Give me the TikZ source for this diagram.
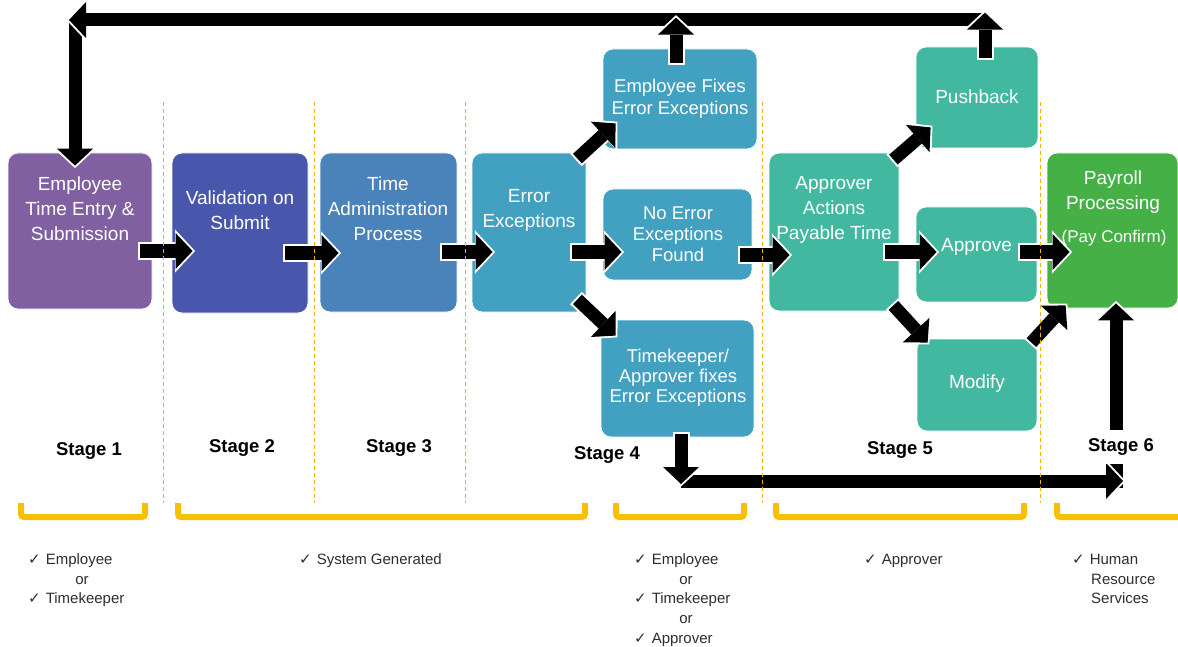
\documentclass[tikz,border=0pt]{standalone}
\usepackage{fontspec}
\setmainfont{Liberation Sans}
\newfontfamily\symbolfont{DejaVu Sans}
\usetikzlibrary{arrows.meta,calc}

\definecolor{purplebox}{HTML}{8060A0}
\definecolor{indigobox}{HTML}{4857AB}
\definecolor{steelbox}{HTML}{4A82BA}
\definecolor{cyanbox}{HTML}{42A0C1}
\definecolor{tealbox}{HTML}{42B8A0}
\definecolor{greenbox}{HTML}{44B045}
\definecolor{bracketgold}{HTML}{F8C100}
\definecolor{guideorange}{HTML}{F5B000}
\definecolor{notegray}{HTML}{2E2E2E}

% check mark used in the responsibility notes
\newcommand\tick{{\symbolfont\fontsize{15}{15}\selectfont ✓}\hspace{5pt}}

\begin{document}
\begin{tikzpicture}[x=1pt,y=-1pt,
  procbox/.style={rounded corners=10pt, draw=white, line width=0.8pt, inner sep=0pt},
  boxtext/.style={text=white, align=center, inner sep=0pt, font=\fontsize{19}{25}\selectfont},
  blockarrow/.style={draw=black, line width=13pt, -{Triangle[length=17pt,width=36pt,line width=0pt]},
    preaction={draw=white, line width=17pt, shorten <=-2pt, shorten >=-2.5pt,
      -{Triangle[length=20pt,width=43pt,line width=0pt]}}},
  stagelabel/.style={font=\bfseries\fontsize{18.5}{20}\selectfont, text=black},
  note/.style={anchor=west, inner sep=0pt, text=notegray, font=\fontsize{15}{18}\selectfont, text height=11pt, text depth=3pt},
  guide/.style={draw=guideorange, line width=1pt, dash pattern=on 4pt off 3pt},
  bracket/.style={draw=bracketgold, line width=6pt, rounded corners=3pt}
]
\useasboundingbox (0,0) rectangle (1178,647);
\clip (0,0) rectangle (1178,647);
\fill[white] (0,0) rectangle (1178,647);

% ---- process boxes ----
\node[procbox, fill=purplebox, minimum width=144pt, minimum height=156pt] (b1) at (80,231) {};
\node[procbox, fill=indigobox, minimum width=136pt, minimum height=160pt] (b2) at (240,233) {};
\node[procbox, fill=steelbox, minimum width=137pt, minimum height=159pt] (b3) at (388.5,232.5) {};
\node[procbox, fill=cyanbox, minimum width=114pt, minimum height=159pt] (b4) at (529,232.5) {};
\node[procbox, fill=cyanbox, minimum width=154pt, minimum height=100pt] (ef) at (680,99) {};
\node[procbox, fill=cyanbox, minimum width=149pt, minimum height=91pt] (ne) at (677.5,234.5) {};
\node[procbox, fill=cyanbox, minimum width=153pt, minimum height=117pt] (tk) at (677.5,378.5) {};
\node[procbox, fill=tealbox, minimum width=130pt, minimum height=158pt] (ap) at (834,232) {};
\node[procbox, fill=tealbox, minimum width=122pt, minimum height=101pt] (pb) at (977,97.5) {};
\node[procbox, fill=tealbox, minimum width=121pt, minimum height=95pt] (av) at (976.5,254.5) {};
\node[procbox, fill=tealbox, minimum width=120pt, minimum height=92pt] (mo) at (977,385) {};
\node[procbox, fill=greenbox, minimum width=131pt, minimum height=155pt] (pp) at (1112.5,230.5) {};

% ---- box texts ----
\node[boxtext] (b1t) at (80,209) {Employee\\Time Entry \&\\Submission};
\node[boxtext] (b2t) at (240,210) {Validation on\\Submit};
\node[boxtext] (b3t) at (388,209) {Time\\Administration\\Process};
\node[boxtext] (b4t) at (529,210) {Error\\Exceptions};
\node[boxtext, font=\fontsize{18.5}{22}\selectfont] (eft) at (680,99) {Employee Fixes\\Error Exceptions};
\node[boxtext, font=\fontsize{18.5}{21}\selectfont] (net) at (678,234) {No Error\\Exceptions\\Found};
\node[boxtext, font=\fontsize{18.5}{20}\selectfont] (tkt) at (678,378) {Timekeeper/\\Approver fixes\\Error Exceptions};
\node[boxtext] (apt) at (834,210) {Approver\\Actions\\Payable Time};
\node[boxtext] (pbt) at (977,97) {Pushback};
\node[boxtext] (avt) at (976.5,247) {Approve};
\node[boxtext] (mot) at (977,384) {Modify};
\node[boxtext] (ppt) at (1113,192) {Payroll\\Processing};
\node[boxtext, font=\fontsize{17}{20}\selectfont] (ppc) at (1114,238) {(Pay Confirm)};

% ---- return path back to time entry ----
\coordinate (topR) at (985,20);
\coordinate (topL) at (75,20);
\draw[blockarrow] ($(topL)+(0,-1)$) -- ($(b1.north)+(-5,13)$);
\draw[blockarrow] (topR) -- ($(topL)+(-6,0)$);
\draw[blockarrow] ($(ef.north)+(-4,14)$) -- ($(ef.north)+(-4,-31)$);
\draw[blockarrow] ($(pb.north)+(8,11)$) -- ($(pb.north)+(8,-34)$);

% ---- main flow ----
\draw[blockarrow] ($(b1.east)+(-12,20)$) -- ($(b2.west)+(21,18)$);
\draw[blockarrow] ($(b2.east)+(-23,20)$) -- ($(b3.west)+(19,20.5)$);
\draw[blockarrow] ($(b3.east)+(-15,19.5)$) -- ($(b4.west)+(21,19.5)$);
\draw[blockarrow] ($(b4.east)+(-14,19.5)$) -- ($(ne.west)+(19,17.5)$);
\draw[blockarrow] ($(ne.east)+(-12,20.5)$) -- ($(ap.west)+(21,23)$);
\draw[blockarrow] ($(ap.east)+(-14,20)$) -- ($(av.west)+(21,-2.5)$);
\draw[blockarrow] ($(av.east)+(-17,-2.5)$) -- ($(pp.west)+(23,21.5)$);

% ---- branches ----
\draw[blockarrow] ($(b4.north east)+(-9,6)$) -- ($(ef.south west)+(13,-26)$);
\draw[blockarrow] ($(b4.south east)+(-9,-13)$) -- ($(tk.north west)+(15,16)$);
\draw[blockarrow] ($(ap.north east)+(-6,7)$) -- ($(pb.south west)+(15,-21)$);
\draw[blockarrow] ($(ap.south east)+(-6,-6)$) -- ($(mo.north west)+(11,4)$);
\draw[blockarrow] ($(mo.north east)+(-6,4)$) -- ($(pp.south west)+(19,-3)$);

% ---- corrected exceptions go straight to payroll ----
\coordinate (botL) at (681,481);
\coordinate (botR) at (1116,481);
\draw[blockarrow] ($(botR)+(0,7)$) -- ($(pp.south)+(3.5,-5)$);
\draw[blockarrow] (botL) -- ($(botR)+(7,0)$);
\draw[blockarrow] ($(tk.south)+(3.5,-3)$) -- ($(botL)+(0,3)$);

% ---- stage labels ----
\node[stagelabel] (s1) at (89,451) {Stage 1};
\node[stagelabel] (s2) at (242,448) {Stage 2};
\node[stagelabel] (s3) at (399,448) {Stage 3};
\node[stagelabel] (s4) at (607,455) {Stage 4};
\node[stagelabel] (s5) at (900,450) {Stage 5};
\node[stagelabel, fill=white, inner xsep=2pt, inner ysep=9pt] (s6) at (1121,447) {Stage 6};

% ---- stage separators ----
\draw[guide] (163,102) -- (163,503);
\draw[guide] (314,102) -- (314,503);
\draw[guide] (465,102) -- (465,503);
\draw[guide] (762,102) -- (762,503);
\draw[guide] (1040,102) -- (1040,503);

% ---- responsibility brackets ----
\draw[bracket] (21,503) -- (21,517) -- (145,517) -- (145,503);
\draw[bracket] (178,503) -- (178,517) -- (585,517) -- (585,503);
\draw[bracket] (616,503) -- (616,517) -- (744,517) -- (744,503);
\draw[bracket] (776,503) -- (776,517) -- (1024,517) -- (1024,503);
\draw[bracket] (1057,503) -- (1057,517) -- (1190,517);

% ---- responsibility notes ----
\node[note] (n1a) at (28,560) {\tick Employee};
\node[note, anchor=center] (n1b) at (82,580) {or};
\node[note] (n1c) at (28,599) {\tick Timekeeper};
\node[note] (n2a) at (299,560) {\tick System Generated};
\node[note] (n4a) at (634,560) {\tick Employee};
\node[note, anchor=center] (n4b) at (686,580) {or};
\node[note] (n4c) at (634,599) {\tick Timekeeper};
\node[note, anchor=center] (n4d) at (686,619) {or};
\node[note] (n4e) at (634,639) {\tick Approver};
\node[note] (n5a) at (864,560) {\tick Approver};
\node[note] (n6a) at (1072,560) {\tick Human};
\node[note] (n6b) at (1091,580) {Resource};
\node[note] (n6c) at (1091,599) {Services};
\end{tikzpicture}
\end{document}
